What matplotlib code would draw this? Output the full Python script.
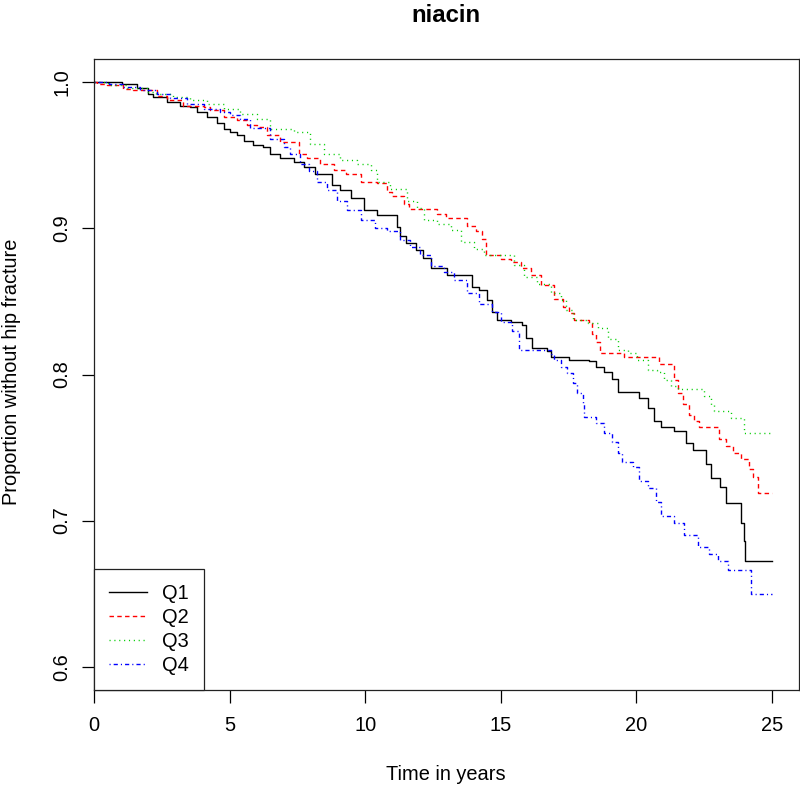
import matplotlib
matplotlib.use("Agg")
import matplotlib.pyplot as plt

plt.rcParams['font.family'] = ['Liberation Sans', 'DejaVu Sans']
plt.rcParams['lines.scale_dashes'] = False

title = "niacin"
xlabel = "Time in years"
ylabel = "Proportion without hip fracture"
labels = ["Q1", "Q2", "Q3", "Q4"]
xticks = [0, 5, 10, 15, 20, 25]
yticks = [0.6, 0.7, 0.8, 0.9, 1.0]
yticklabels = ["0.6", "0.7", "0.8", "0.9", "1.0"]

q1_time = [0, 1.02, 1.58, 2.0, 2.19, 2.68, 3.18, 3.55, 3.79, 4.16, 4.53, 4.78, 5.02, 5.27, 5.52,
           5.88, 6.25, 6.5, 6.87, 7.36, 7.73, 8.16, 8.78, 9.09, 9.46, 9.95, 10.44, 11.18, 11.3,
           11.49, 11.86, 12.15, 12.41, 13.03, 13.95, 14.2, 14.5, 14.69, 14.88, 15.37, 15.8,
           15.92, 16.17, 16.72, 16.85, 17.52, 18.26, 18.5, 18.81, 19.12, 19.33, 20.1, 20.42,
           20.66, 20.9, 21.4, 21.83, 22.08, 22.57, 22.76, 23.09, 23.31, 23.86, 23.96, 24.02, 25.0]
q1_surv = [1.0, 0.999, 0.996, 0.992, 0.990, 0.9866, 0.984, 0.983, 0.980, 0.976, 0.972, 0.968,
           0.966, 0.964, 0.960, 0.957, 0.956, 0.951, 0.948, 0.9455, 0.942, 0.9376, 0.930, 0.926,
           0.9205, 0.9125, 0.909, 0.901, 0.895, 0.890, 0.885, 0.880, 0.873, 0.868, 0.860, 0.858,
           0.851, 0.843, 0.837, 0.836, 0.834, 0.825, 0.818, 0.816, 0.812, 0.810, 0.809, 0.805,
           0.802, 0.797, 0.788, 0.784, 0.777, 0.768, 0.764, 0.761, 0.753, 0.748, 0.739, 0.729,
           0.723, 0.712, 0.698, 0.686, 0.672, 0.672]

q2_time = [0, 0.1, 0.47, 1.08, 1.45, 2.32, 2.68, 3.3, 4.04, 4.29, 4.78, 5.27, 5.64, 6.0, 6.38,
           6.87, 7.55, 7.86, 8.35, 8.84, 9.3, 9.83, 10.44, 10.81, 11.0, 11.42, 11.61, 12.66,
           12.97, 13.77, 14.07, 14.32, 14.44, 15.0, 15.37, 15.74, 16.1, 16.48, 16.97, 17.28,
           17.52, 17.71, 18.26, 18.38, 18.5, 18.66, 19.55, 20.85, 21.4, 21.52, 21.71, 21.95,
           22.14, 22.32, 23.06, 23.31, 23.56, 23.86, 24.17, 24.29, 24.48, 25.0]
q2_surv = [1.0, 0.999, 0.998, 0.9957, 0.9945, 0.991, 0.9877, 0.984, 0.983, 0.981, 0.976, 0.974,
           0.971, 0.9695, 0.9638, 0.959, 0.951, 0.948, 0.944, 0.940, 0.937, 0.932, 0.931, 0.925,
           0.922, 0.917, 0.913, 0.910, 0.907, 0.902, 0.898, 0.893, 0.882, 0.879, 0.877, 0.873,
           0.868, 0.861, 0.852, 0.846, 0.842, 0.837, 0.835, 0.828, 0.822, 0.815, 0.812, 0.807,
           0.796, 0.787, 0.780, 0.772, 0.768, 0.764, 0.756, 0.751, 0.746, 0.742, 0.735, 0.730,
           0.719, 0.719]

q3_time = [0, 0.5, 1.2, 1.95, 2.3, 2.93, 3.55, 4.16, 4.78, 5.39, 6.0, 6.5, 7.36, 7.98, 8.47,
           9.09, 9.7, 10.2, 10.44, 10.93, 11.55, 11.92, 12.17, 12.66, 13.15, 13.52, 14.01,
           14.38, 15.49, 15.86, 16.35, 16.85, 17.21, 17.4, 17.65, 18.2, 18.57, 18.94, 19.31,
           19.68, 20.04, 20.42, 20.78, 21.03, 21.28, 21.52, 22.51, 22.76, 22.88, 23.49, 23.99,
           25.0]
q3_surv = [1.0, 0.998, 0.996, 0.9934, 0.992, 0.990, 0.9877, 0.9855, 0.982, 0.9786, 0.975, 0.968,
           0.966, 0.958, 0.951, 0.9467, 0.944, 0.940, 0.932, 0.927, 0.919, 0.914, 0.906, 0.903,
           0.899, 0.891, 0.886, 0.882, 0.875, 0.867, 0.862, 0.856, 0.851, 0.844, 0.837, 0.835,
           0.832, 0.824, 0.817, 0.815, 0.810, 0.803, 0.802, 0.796, 0.792, 0.790, 0.785, 0.779,
           0.775, 0.770, 0.760, 0.760]

q4_time = [0, 0.55, 1.08, 1.7, 2.32, 2.8, 3.42, 4.04, 4.65, 5.02, 5.39, 5.76, 6.5, 7.0, 7.24,
           7.61, 7.92, 8.23, 8.6, 8.96, 9.34, 9.83, 10.38, 10.81, 11.3, 11.67, 12.04, 12.41,
           12.9, 13.26, 13.77, 14.2, 14.69, 15.0, 15.43, 15.67, 16.85, 16.97, 17.21, 17.46,
           17.65, 17.83, 18.02, 18.08, 18.5, 18.81, 19.12, 19.31, 19.49, 19.86, 20.11, 20.42,
           20.72, 20.91, 21.4, 21.77, 22.26, 22.69, 23.0, 23.37, 24.23, 25.0]
q4_surv = [1.0, 0.999, 0.997, 0.9945, 0.992, 0.989, 0.9855, 0.982, 0.980, 0.9774, 0.975, 0.969,
           0.9615, 0.956, 0.951, 0.944, 0.939, 0.932, 0.926, 0.919, 0.9125, 0.9057, 0.900,
           0.898, 0.892, 0.887, 0.882, 0.874, 0.870, 0.865, 0.856, 0.848, 0.843, 0.836, 0.830,
           0.817, 0.814, 0.810, 0.805, 0.801, 0.794, 0.787, 0.780, 0.771, 0.767, 0.760, 0.754,
           0.746, 0.740, 0.737, 0.727, 0.722, 0.713, 0.703, 0.698, 0.690, 0.682, 0.677, 0.672,
           0.666, 0.650, 0.650]

series = [(q1_time, q1_surv), (q2_time, q2_surv), (q3_time, q3_surv), (q4_time, q4_surv)]
colors = ["black", "#FF0000", "#00CD00", "#0000FF"]
styles = ["-", (0, (3.2, 2.4)), (0, (0.8, 2.7)), (0, (0.8, 2.2, 3.0, 2.2))]

FS = 14.4
fig = plt.figure(figsize=(8, 7.88), dpi=100)
ax = fig.add_axes([94 / 800, 98 / 788, 705 / 800, 631 / 788])

for (t, s), c, ls, lab in zip(series, colors, styles, labels):
    ax.plot(t, s, drawstyle="steps-post", color=c, linestyle=ls, lw=1.0, label=lab)

ax.set_xlim(0, 26)
ax.set_ylim(0.584, 1.016)
ax.set_xticks(xticks)
ax.set_xticklabels([str(v) for v in xticks], fontsize=FS)
ax.set_yticks(yticks)
ax.set_yticklabels(yticklabels, fontsize=FS, rotation=90, va="center")
ax.tick_params(axis="x", direction="out", length=9, width=0.9, pad=10)
ax.tick_params(axis="y", direction="out", length=9, width=0.9, pad=7.5)
for sp in ax.spines.values():
    sp.set_linewidth(0.9)
    sp.set_color("#222222")

fig.text(446 / 800, 1 - 15 / 788, title, ha="center", va="center", fontsize=17.3, fontweight="bold")
fig.text(446 / 800, 1 - 775 / 788, xlabel, ha="center", va="center", fontsize=FS)
fig.text(12 / 800, 1 - 372 / 788, ylabel, ha="center", va="center", rotation=90, fontsize=FS)

leg = ax.legend(loc="lower left", borderaxespad=0, fancybox=False, edgecolor="#222222",
                framealpha=1, handlelength=1.9, handletextpad=0.75, borderpad=0.75,
                labelspacing=0.25, fontsize=FS)
leg.get_frame().set_linewidth(0.9)

fig.savefig("out.png", dpi=100)
